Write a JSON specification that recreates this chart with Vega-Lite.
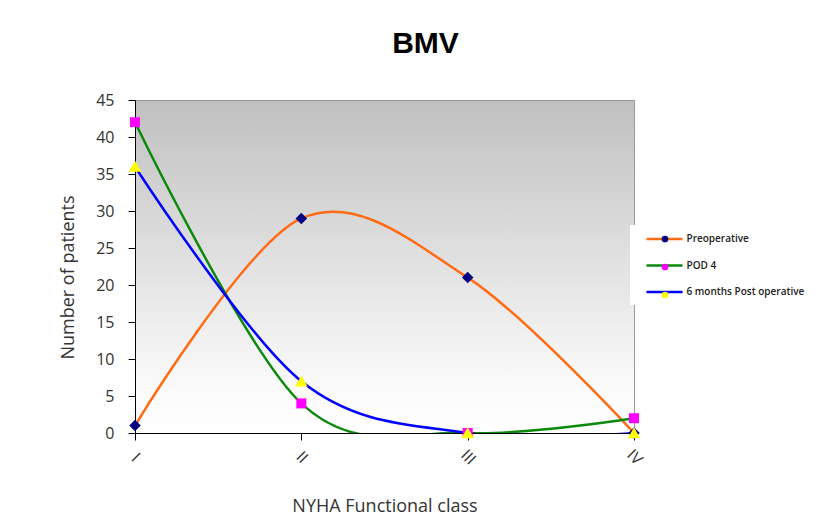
{
  "$schema": "https://vega.github.io/schema/vega-lite/v6.json",
  "width": 499,
  "height": 333,
  "autosize": "none",
  "padding": {"left": 135, "top": 100, "right": 196, "bottom": 90},
  "background": "white",
  "title": {
    "text": "BMV",
    "font": "Liberation Sans",
    "fontSize": 30,
    "fontWeight": "bold",
    "color": "#000000",
    "anchor": "middle",
    "dx": 41,
    "offset": 33
  },
  "data": {
    "values": [
      {"nyha": "I", "series": "Preoperative", "patients": 1},
      {"nyha": "II", "series": "Preoperative", "patients": 29},
      {"nyha": "III", "series": "Preoperative", "patients": 21},
      {"nyha": "IV", "series": "Preoperative", "patients": 0},
      {"nyha": "I", "series": "POD 4", "patients": 42},
      {"nyha": "II", "series": "POD 4", "patients": 4},
      {"nyha": "III", "series": "POD 4", "patients": 0},
      {"nyha": "IV", "series": "POD 4", "patients": 2},
      {"nyha": "I", "series": "6 months Post operative", "patients": 36},
      {"nyha": "II", "series": "6 months Post operative", "patients": 7},
      {"nyha": "III", "series": "6 months Post operative", "patients": 0},
      {"nyha": "IV", "series": "6 months Post operative", "patients": 0}
    ]
  },
  "encoding": {
    "x": {
      "field": "nyha",
      "type": "ordinal",
      "sort": ["I", "II", "III", "IV"],
      "scale": {"type": "point", "padding": 0},
      "axis": {
        "title": "NYHA Functional class",
        "titleFont": "Open Sans",
        "titleFontSize": 18,
        "titleFontWeight": "normal",
        "titleColor": "#333333",
        "titlePadding": 30,
        "labelFont": "Open Sans",
        "labelFontSize": 16,
        "labelColor": "#333333",
        "labelAngle": 45,
        "labelAlign": "center",
        "labelBaseline": "middle",
        "labelPadding": 17,
        "tickSize": 7,
        "tickColor": "#000000",
        "domainColor": "#000000",
        "grid": false
      }
    },
    "y": {
      "field": "patients",
      "type": "quantitative",
      "scale": {"domain": [0, 45], "nice": false},
      "axis": {
        "title": "Number of patients",
        "titleFont": "Open Sans",
        "titleFontSize": 18,
        "titleFontWeight": "normal",
        "titleColor": "#333333",
        "titleAngle": 270,
        "titleX": -67,
        "titleY": 177,
        "titleAlign": "center",
        "titleBaseline": "middle",
        "labelFont": "Open Sans",
        "labelFontSize": 16,
        "labelColor": "#333333",
        "labelPadding": 14,
        "values": [0, 5, 10, 15, 20, 25, 30, 35, 40, 45],
        "tickSize": 7,
        "tickColor": "#000000",
        "domainColor": "#000000",
        "grid": false
      }
    }
  },
  "layer": [
    {
      "mark": {"type": "line", "interpolate": "cardinal", "strokeWidth": 2.5, "clip": true},
      "encoding": {
        "stroke": {
          "field": "series",
          "type": "nominal",
          "scale": {
            "domain": ["Preoperative", "POD 4", "6 months Post operative"],
            "range": ["#ff6a13", "#0a8a0a", "#0000ff"]
          },
          "legend": {
            "orient": "none",
            "legendX": 495,
            "legendY": 125,
            "title": null,
            "symbolType": "M-4,0H4",
            "symbolSize": 81,
            "symbolStrokeWidth": 2.5,
            "symbolOffset": 20.5,
            "labelOffset": 16,
            "labelFont": "Open Sans",
            "labelFontSize": 10,
            "labelFontWeight": 600,
            "labelColor": "#222222",
            "fillColor": "white",
            "padding": 8,
            "rowPadding": 15.5
          }
        }
      }
    },
    {
      "mark": {"type": "point", "filled": true, "opacity": 1, "strokeWidth": 0, "size": 100},
      "encoding": {
        "fill": {
          "field": "series",
          "type": "nominal",
          "scale": {
            "domain": ["Preoperative", "POD 4", "6 months Post operative"],
            "range": ["#000080", "#ff00ff", "#ffff00"]
          },
          "legend": {
            "orient": "none",
            "legendX": 495,
            "legendY": 125,
            "title": null,
            "symbolSize": 45,
            "symbolStrokeWidth": 0,
            "symbolOffset": 21,
            "labelFontSize": 10,
            "labelOpacity": 0,
            "padding": 9,
            "rowPadding": 18
          }
        },
        "shape": {
          "field": "series",
          "type": "nominal",
          "scale": {
            "domain": ["Preoperative", "POD 4", "6 months Post operative"],
            "range": [
              "M0,-1.15L1.15,0L0,1.15L-1.15,0Z",
              "M-1,-1H1V1H-1Z",
              "M0,-1.15L1.25,1.05L-1.25,1.05Z"
            ]
          },
          "legend": {
            "orient": "none",
            "legendX": 495,
            "legendY": 125,
            "title": null,
            "symbolSize": 45,
            "symbolStrokeWidth": 0,
            "symbolOffset": 21,
            "labelFontSize": 10,
            "labelOpacity": 0,
            "padding": 9,
            "rowPadding": 18
          }
        }
      }
    }
  ],
  "resolve": {"scale": {"fill": "independent", "stroke": "independent"}},
  "config": {
    "view": {
      "stroke": "#9a9a9a",
      "strokeWidth": 1,
      "fill": {
        "gradient": "linear",
        "x1": 0, "y1": 0, "x2": 0, "y2": 1,
        "stops": [
          {"offset": 0, "color": "#c0c0c0"},
          {"offset": 0.5, "color": "#e2e2e2"},
          {"offset": 0.85, "color": "#fafafa"},
          {"offset": 1, "color": "#ffffff"}
        ]
      }
    }
  }
}
